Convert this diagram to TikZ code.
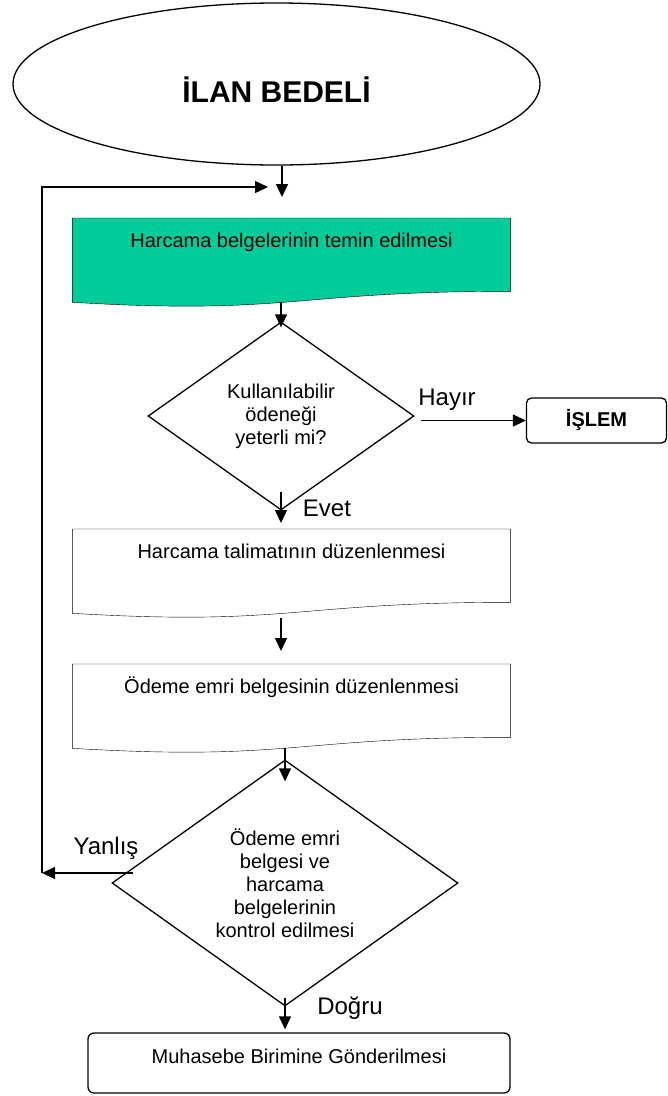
\documentclass[tikz,border=0pt]{standalone}
\usepackage{fontspec}
\setmainfont{Liberation Sans}
\usetikzlibrary{shapes.geometric,arrows.meta,backgrounds}
\definecolor{yesil}{RGB}{0,204,153}
\begin{document}
\begin{tikzpicture}[x=1pt, y=-1pt, line width=1.3pt,
	ok/.style={-{Triangle[length=13pt,width=12pt]}},
	belge/.style={anchor=north, minimum width=437pt, minimum height=72pt, inner sep=0pt, text height=29pt, text depth=43pt, font=\fontsize{20}{23}\selectfont},
	karar/.style={diamond, draw, aspect=1.4, inner sep=0pt, align=center, font=\fontsize{20}{23}\selectfont},
	etiket/.style={font=\fontsize{24}{28}\selectfont}]
	\useasboundingbox (0,0) rectangle (668,1096);
	\node[ellipse, draw, minimum width=527pt, minimum height=162pt, text height=40pt, text depth=4pt, font=\bfseries\fontsize{30}{36}\selectfont] (ilan) at (276.5,84) {İLAN BEDELİ};
	\node[belge] (temin)   at (291.5,218) {Harcama belgelerinin temin edilmesi};
	\node[belge] (talimat) at (291.5,529) {Harcama talimatının düzenlenmesi};
	\node[belge] (odeme)   at (291.5,664) {Ödeme emri belgesinin düzenlenmesi};
	\node[karar, minimum width=266pt, minimum height=188pt] (karar1) at (281,416) {Kullanılabilir\\ödeneği\\yeterli mi?};
	\node[karar, minimum width=346pt, minimum height=246pt] (karar2) at (285,883) {Ödeme emri\\belgesi ve\\harcama\\belgelerinin\\kontrol edilmesi};
	\node[draw, rounded corners=5pt, minimum width=140pt, minimum height=45pt, font=\bfseries\fontsize{20}{24}\selectfont] (islem) at (596.5,420.5) {İŞLEM};
	\node[draw, rounded corners=6pt, minimum width=422pt, minimum height=60pt, inner sep=0pt, text height=30pt, text depth=30pt, font=\fontsize{20}{23}\selectfont] (muhasebe) at (299,1063) {Muhasebe Birimine Gönderilmesi};
	\node[etiket] (hayir)  at (447,400)  {Hayır};
	\node[etiket] (evet)   at (327,508)  {Evet};
	\node[etiket] (yanlis) at (106,848)  {Yanlış};
	\node[etiket] (dogru)  at (350,1008) {Doğru};
	\coordinate (giris) at (282,197);
	\coordinate (geri)  at (268,187);
	\coordinate (sol)   at (42,873);
	\begin{scope}[on background layer, line width=1.3pt]
		\filldraw[fill=yesil] (temin.south east) -- (temin.north east) -- (temin.north west) -- ([yshift=-11pt]temin.south west) .. controls ([yshift=-24pt]temin.south) and (temin.south) .. (temin.south east) coordinate[pos=.5] (temin-dalga) -- cycle;
		\draw (talimat.south east) -- (talimat.north east) -- (talimat.north west) -- ([yshift=-11pt]talimat.south west) .. controls ([yshift=-24pt]talimat.south) and (talimat.south) .. (talimat.south east) coordinate[pos=.5] (talimat-dalga) -- cycle;
		\draw (odeme.south east) -- (odeme.north east) -- (odeme.north west) -- ([yshift=-11pt]odeme.south west) .. controls ([yshift=-24pt]odeme.south) and (odeme.south) .. (odeme.south east) coordinate[pos=.5] (odeme-dalga) -- cycle;
	\end{scope}
	\draw[ok] (ilan.south -| giris) -- (giris);
	\draw[ok] (sol) |- (geri);
	\draw[ok] (temin-dalga -| karar1.north) -- ([yshift=-6pt]karar1.north);
	\draw[ok] ([xshift=6pt]karar1.east |- islem.west) -- (islem.west);
	\draw[ok] ([yshift=19pt]karar1.south) -- ([yshift=6pt]karar1.south |- talimat.north);
	\draw[ok] ([yshift=-5pt]talimat-dalga -| karar1.south) -- ([yshift=13pt]odeme.north -| karar1.south);
	\draw[ok] (odeme-dalga -| karar2.north) -- ([yshift=-22pt]karar2.north);
	\draw[ok] ([xshift=22pt,yshift=10pt]karar2.west) -- (sol);
	\draw[ok] ([yshift=9pt]karar2.south) -- ([yshift=3pt]karar2.south |- muhasebe.north);
\end{tikzpicture}
\end{document}
